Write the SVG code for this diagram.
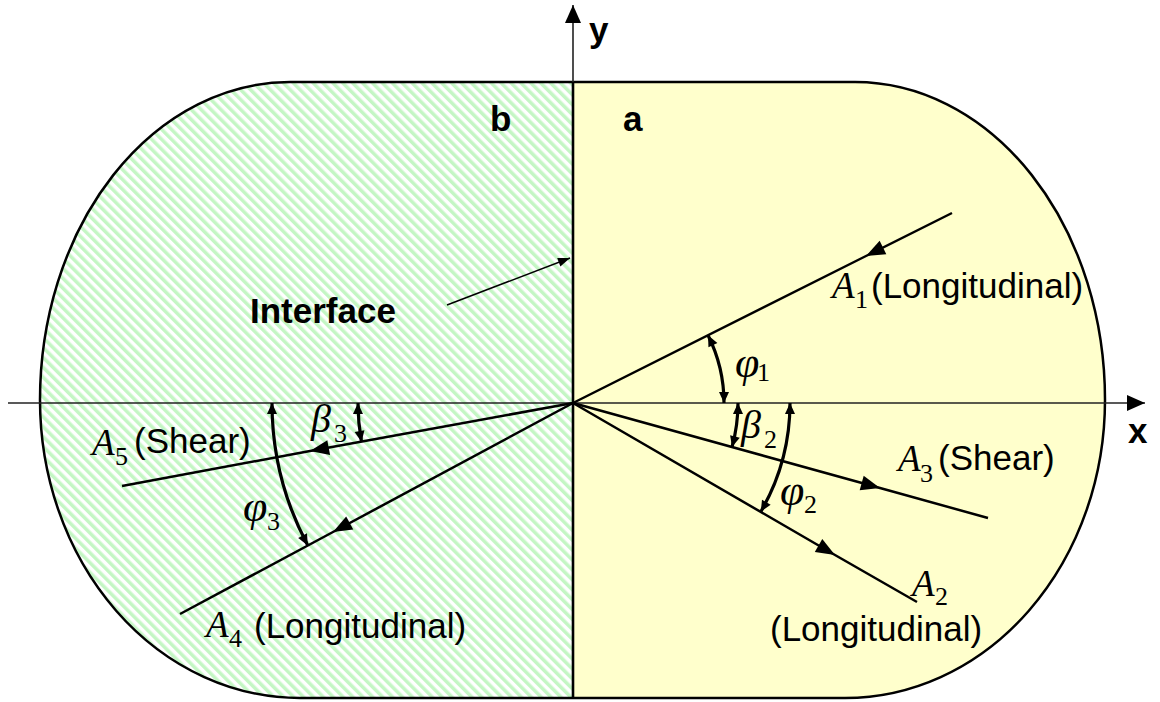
<svg xmlns="http://www.w3.org/2000/svg" width="1160" height="702" viewBox="0 0 1160 702">
<style>
.lbl{font-family:"Liberation Sans",Arial,sans-serif;font-size:35px;fill:#000}
.bold{font-family:"Liberation Sans",Arial,sans-serif;font-size:35px;font-weight:bold;fill:#000}
.sym{font-family:"Liberation Serif","Times New Roman",serif;font-style:italic;font-size:37px;fill:#000}
.gr{font-family:"Liberation Serif","Times New Roman",serif;font-style:italic;font-size:44px;fill:#000}
.gb{font-family:"Liberation Serif","Times New Roman",serif;font-style:italic;font-size:40px;fill:#000}
.sub{font-family:"Liberation Serif","Times New Roman",serif;font-size:26px;fill:#000}
.ray{fill:none;stroke:#000;stroke-width:2.5;marker-mid:url(#ray)}
.arc{fill:none;stroke:#000;stroke-width:3.2;marker-start:url(#ang);marker-end:url(#ang)}
.axis{fill:none;stroke:#222;stroke-width:1.6}
</style>
<defs>
<pattern id="hatch" patternUnits="userSpaceOnUse" width="7" height="7" patternTransform="rotate(-45)">
<rect width="7" height="7" fill="#ffffff"/>
<rect width="3.5" height="7" fill="#c4f6c4"/>
</pattern>
<clipPath id="clipL"><rect x="0" y="0" width="573" height="702"/></clipPath>
<clipPath id="clipR"><rect x="573" y="0" width="587" height="702"/></clipPath>
<marker id="ray" markerUnits="userSpaceOnUse" markerWidth="22" markerHeight="18" viewBox="-20 -9 22 18" refX="0" refY="0" orient="auto"><path d="M0,0 L-19,-7.5 L-19,7.5 Z" fill="#000"/></marker>
<marker id="ang" markerUnits="userSpaceOnUse" markerWidth="14" markerHeight="12" viewBox="-12 -6 14 12" refX="0" refY="0" orient="auto-start-reverse"><path d="M0,0 L-11,-5 L-11,5 Z" fill="#000"/></marker>
<marker id="axh" markerUnits="userSpaceOnUse" markerWidth="22" markerHeight="18" viewBox="-20 -9 22 18" refX="0" refY="0" orient="auto"><path d="M0,0 L-18,-8 L-18,8 Z" fill="#000"/></marker>
<marker id="small" markerUnits="userSpaceOnUse" markerWidth="16" markerHeight="12" viewBox="-14 -6 16 12" refX="0" refY="0" orient="auto"><path d="M0,0 L-12,-4.5 L-12,4.5 Z" fill="#000"/></marker>
<path id="body" d="M290,82 H855 A250,318 0 0 1 1105,400 A260,298 0 0 1 845,698 H300 A260,298 0 0 1 40,400 A250,318 0 0 1 290,82 Z"/>
</defs>

<g id="medium-b">
<use href="#body" fill="url(#hatch)" clip-path="url(#clipL)"/>
<text class="bold" x="490" y="131">b</text>
</g>
<g id="medium-a">
<use href="#body" fill="#ffffcc" clip-path="url(#clipR)"/>
<text class="bold" x="623" y="131">a</text>
</g>
<g id="outline">
<use href="#body" fill="none" stroke="#000" stroke-width="2.5"/>
</g>

<g id="connectors">
<path class="axis" d="M8,403 H1145" marker-end="url(#axh)"/>
<path class="axis" d="M573,403 V5" stroke="#000" marker-end="url(#axh)"/>
<path d="M573,82 V698" fill="none" stroke="#000" stroke-width="2.6"/>
<path d="M447,305 L570,258" fill="none" stroke="#000" stroke-width="1.5" marker-end="url(#small)"/>
<path class="ray" d="M952,213 L866,256 L573,403"/>
<path class="ray" d="M573,403 L880,488 L988,518"/>
<path class="ray" d="M573,403 L835,555 L917,602"/>
<path class="ray" d="M573,403 L333,532 L180,614"/>
<path class="ray" d="M573,403 L310,451 L122,486"/>
<path class="arc" d="M708,335.3 A151,151 0 0 1 724,403"/>
<path class="arc" d="M738,403 A165,165 0 0 1 732,447.1"/>
<path class="arc" d="M790,403 A217,217 0 0 1 760.8,511.7"/>
<path class="arc" d="M358,403 A215,215 0 0 0 361.5,441.9"/>
<path class="arc" d="M272,403 A301,301 0 0 0 307.8,545.4"/>
</g>

<g id="axis-labels">
<text class="bold" x="589" y="42">y</text>
<text class="bold" x="1128" y="443">x</text>
</g>
<g id="interface-label"><text class="bold" x="250" y="323">Interface</text></g>

<g id="label-A1"><text class="sym" x="832" y="298">A</text><text class="sub" x="855" y="308">1</text><text class="lbl" x="871" y="298">(Longitudinal)</text></g>
<g id="label-A3"><text class="sym" x="898" y="471">A</text><text class="sub" x="920" y="482">3</text><text class="lbl" x="938" y="470">(Shear)</text></g>
<g id="label-A2"><text class="sym" x="912" y="596">A</text><text class="sub" x="935" y="605">2</text><text class="lbl" x="770" y="641">(Longitudinal)</text></g>
<g id="label-A5"><text class="sym" x="92" y="455">A</text><text class="sub" x="115" y="465">5</text><text class="lbl" x="134" y="453">(Shear)</text></g>
<g id="label-A4"><text class="sym" x="206" y="637">A</text><text class="sub" x="229" y="647">4</text><text class="lbl" x="254" y="638">(Longitudinal)</text></g>

<g id="angle-phi1"><text class="gr" x="735" y="377">φ</text><text class="sub" x="757" y="381">1</text></g>
<g id="angle-beta2"><text class="gb" x="741" y="438">β</text><text class="sub" x="764" y="448">2</text></g>
<g id="angle-phi2"><text class="gr" x="780" y="505">φ</text><text class="sub" x="804" y="513">2</text></g>
<g id="angle-beta3"><text class="gb" x="311" y="432">β</text><text class="sub" x="334" y="442">3</text></g>
<g id="angle-phi3"><text class="gr" x="243" y="521">φ</text><text class="sub" x="267" y="530">3</text></g>
</svg>
